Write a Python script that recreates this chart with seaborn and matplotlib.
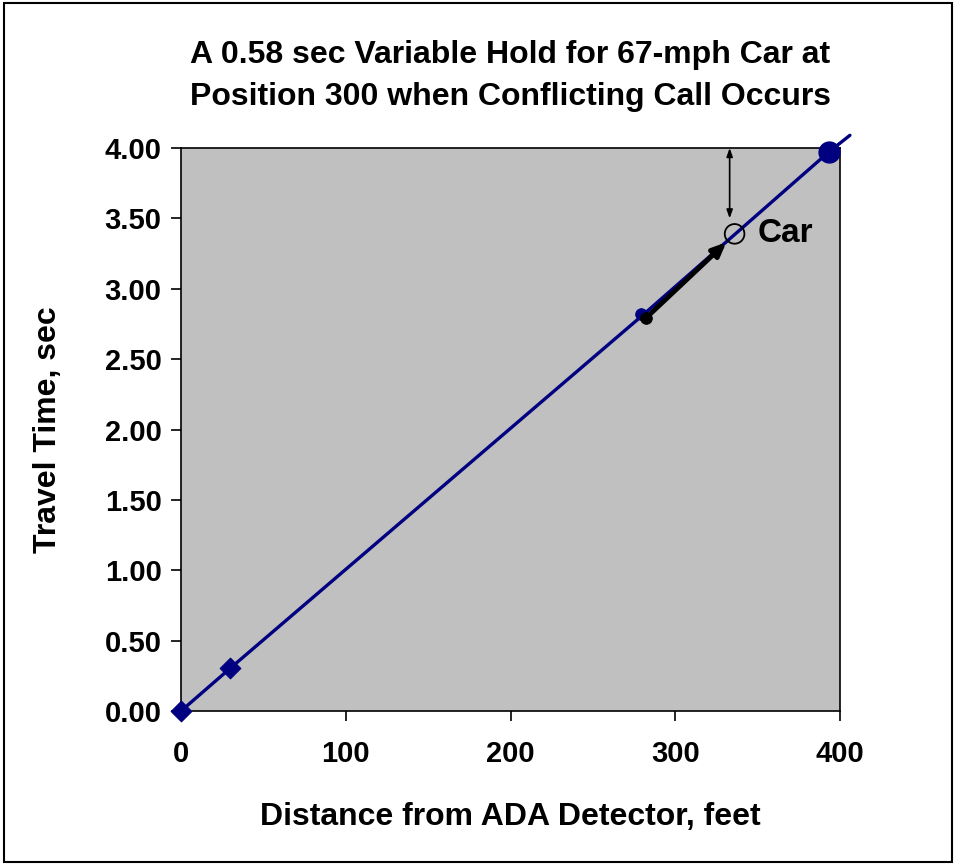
import matplotlib
matplotlib.use("Agg")
import matplotlib.pyplot as plt
import seaborn as sns
import pandas as pd

# trajectory of the 67-mph car (distance, travel time)
line_dist = [0, 30, 280, 393, 406]
line_time = [0, 0.305, 2.81, 3.97, 4.09]

# detector diamonds
diamond_dist = [0, 30]
diamond_time = [0, 0.305]

# conflicting call position and end point
call_dist = [279]
call_time = [2.82]
end_dist = [393]
end_time = [3.97]

# car position with black arrow start
car_start = (282, 2.79)
car_pos = (336, 3.39)
arrow_tip = (331, 3.33)

# hold bracket
hold_x = 333
hold_top = 4.00
hold_bottom = 3.50

sns.set_style("white")
plt.rcParams["font.family"] = ["Liberation Sans", "DejaVu Sans"]
plt.rcParams["font.weight"] = "bold"
plt.rcParams["text.color"] = "black"
plt.rcParams["axes.labelcolor"] = "black"
plt.rcParams["xtick.color"] = "black"
plt.rcParams["ytick.color"] = "black"

fig = plt.figure(figsize=(9.56, 8.65), dpi=100)
ax = fig.add_axes([0.1893, 0.178, 0.6894, 0.6509])
ax.set_facecolor("#C0C0C0")

navy = "#000080"
line_df = pd.DataFrame({"d": line_dist, "t": line_time})
sns.lineplot(data=line_df, x="d", y="t", color=navy, lw=2.4, ax=ax, sort=False)
for l in ax.lines:
    l.set_clip_on(False)

sns.scatterplot(x=diamond_dist, y=diamond_time, marker="D", s=110, color=navy,
                edgecolor=navy, ax=ax, clip_on=False, zorder=5)
sns.scatterplot(x=call_dist, y=call_time, marker="o", s=70, color=navy,
                edgecolor=navy, ax=ax, zorder=5)
sns.scatterplot(x=end_dist, y=end_time, marker="o", s=220, color=navy,
                edgecolor=navy, ax=ax, clip_on=False, zorder=5)
sns.scatterplot(x=[car_start[0]], y=[car_start[1]], marker="o", s=70, color="black",
                edgecolor="black", ax=ax, zorder=6)
sns.scatterplot(x=[car_pos[0]], y=[car_pos[1]], marker="o", s=200, facecolor="none",
                edgecolor="black", linewidth=1.3, ax=ax, zorder=6)

ax.annotate("", xy=arrow_tip, xytext=car_start,
            arrowprops=dict(arrowstyle="-|>,head_length=0.8,head_width=0.35",
                            color="black", lw=3.5, shrinkA=0, shrinkB=0), zorder=7)
ax.annotate("", xy=(hold_x, hold_bottom), xytext=(hold_x, hold_top),
            arrowprops=dict(arrowstyle="<|-|>,head_length=0.5,head_width=0.18",
                            color="black", lw=1.2, shrinkA=0, shrinkB=0), zorder=7)
ax.text(car_pos[0] + 14, car_pos[1], "Car", fontsize=24, fontweight="bold",
        va="center", ha="left")

ax.set_xlim(0, 400)
ax.set_ylim(0, 4)
ax.set_xticks([0, 100, 200, 300, 400])
ax.set_yticks([i * 0.5 for i in range(9)])
ax.set_yticklabels([f"{i * 0.5:.2f}" for i in range(9)])
ax.tick_params(axis="both", direction="out", length=7, width=1.2, labelsize=21,
               bottom=True, left=True, color="black", pad=7)
ax.tick_params(axis="x", pad=14)
for lab in ax.get_xticklabels() + ax.get_yticklabels():
    lab.set_fontweight("bold")
for sp in ax.spines.values():
    sp.set_color("black")
    sp.set_linewidth(1.2)

ax.set_xlabel("Distance from ADA Detector, feet", fontsize=23, fontweight="bold", labelpad=24)
ax.set_ylabel("Travel Time, sec", fontsize=23, fontweight="bold", labelpad=30)
ax.set_title("A 0.58 sec Variable Hold for 67-mph Car at\nPosition 300 when Conflicting Call Occurs",
             fontsize=23, fontweight="bold", pad=31, linespacing=1.5)

fig.patches.append(plt.Rectangle((0.004, 0.004), 0.992, 0.992, transform=fig.transFigure,
                                 fill=False, edgecolor="black", lw=1.5))

fig.savefig("out.png", dpi=100)
